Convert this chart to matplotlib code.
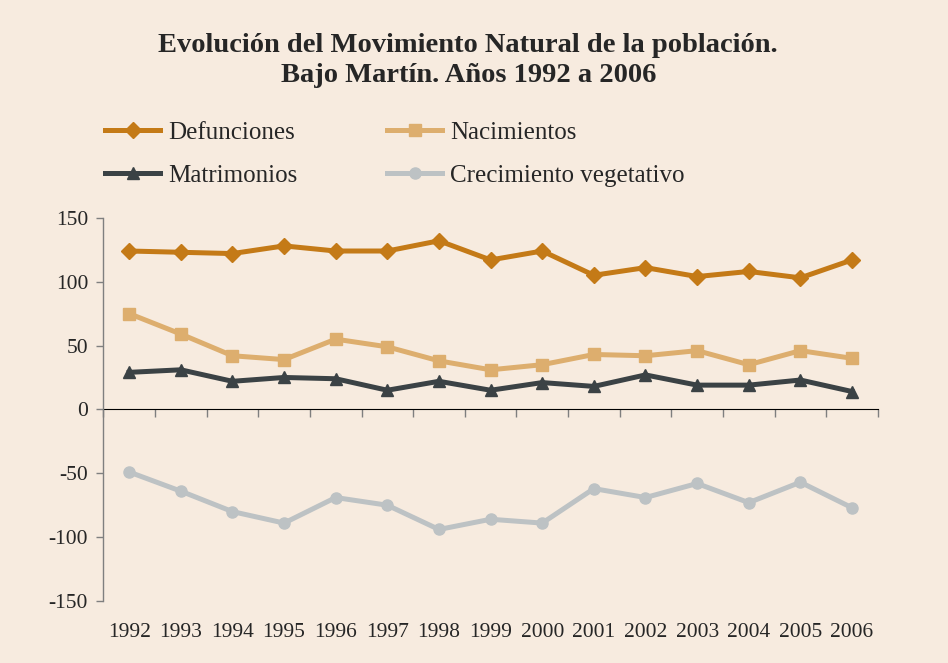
import matplotlib
matplotlib.use("Agg")
import matplotlib.pyplot as plt
import numpy as np

years = ["1992", "1993", "1994", "1995", "1996", "1997", "1998", "1999",
         "2000", "2001", "2002", "2003", "2004", "2005", "2006"]
defunciones = [124, 123, 122, 128, 124, 124, 132, 117, 124, 105, 111, 104, 108, 103, 117]
nacimientos = [75, 59, 42, 39, 55, 49, 38, 31, 35, 43, 42, 46, 35, 46, 40]
matrimonios = [29, 31, 22, 25, 24, 15, 22, 15, 21, 18, 27, 19, 19, 23, 14]
crecimiento = [-49, -64, -80, -89, -69, -75, -94, -86, -89, -62, -69, -58, -73, -57, -77]
y_ticks = [-150, -100, -50, 0, 50, 100, 150]

plt.rcParams['font.family'] = ['Liberation Serif', 'DejaVu Serif']
plt.rcParams['axes.unicode_minus'] = False

bg = "#F7EBDF"
c_def = "#C47A17"
c_nac = "#DDAE6E"
c_mat = "#3B4245"
c_cre = "#BDC2C4"
axis_col = "#7F7F7F"
text_col = "#262626"

fig = plt.figure(figsize=(9.48, 6.63), dpi=100, facecolor=bg)
ax = fig.add_axes([0.109, 0.0935, 0.817, 0.578], facecolor=bg)

x = np.arange(len(years))
lw = 3.6
h_def, = ax.plot(x, defunciones, color=c_def, lw=lw, marker='D', ms=8, label="Defunciones")
h_nac, = ax.plot(x, nacimientos, color=c_nac, lw=lw, marker='s', ms=8, label="Nacimientos")
h_mat, = ax.plot(x, matrimonios, color=c_mat, lw=lw, marker='^', ms=8, label="Matrimonios")
h_cre, = ax.plot(x, crecimiento, color=c_cre, lw=lw, marker='o', ms=8, label="Crecimiento vegetativo")

ax.set_xlim(-0.5, len(years) - 0.5)
ax.set_ylim(-150, 150)
ax.set_yticks(y_ticks)
ax.set_yticklabels([str(v) for v in y_ticks])

for s in ['top', 'right', 'bottom']:
    ax.spines[s].set_visible(False)
ax.spines['left'].set_color(axis_col)
ax.spines['left'].set_linewidth(1.0)
ax.tick_params(axis='y', colors=axis_col, labelcolor=text_col, labelsize=15.5,
               length=5, width=1.0, direction='out', pad=6)

ax.set_xticks(x)
ax.set_xticklabels(years)
ax.tick_params(axis='x', length=0, labelsize=15.5, labelcolor=text_col, pad=16)

sec = ax.secondary_xaxis(0.5)
sec.set_xticks(np.arange(-0.5, len(years) + 0.5, 1.0))
sec.set_xticklabels([])
sec.spines['bottom'].set_color(axis_col)
sec.spines['bottom'].set_linewidth(1.0)
sec.tick_params(axis='x', colors=axis_col, length=6, width=1.0, direction='in')

fig.text(0.494, 0.932, "Evolución del Movimiento Natural de la población.",
         ha='center', va='center', fontsize=20.5, fontweight='bold', color=text_col)
fig.text(0.494, 0.886, "Bajo Martín. Años 1992 a 2006",
         ha='center', va='center', fontsize=20.5, fontweight='bold', color=text_col)

leg = fig.legend([h_def, h_mat, h_nac, h_cre],
                 ["Defunciones", "Matrimonios", "Nacimientos", "Crecimiento vegetativo"],
                 ncol=2, loc='upper left', bbox_to_anchor=(0.111, 0.817),
                 frameon=False, fontsize=18, handlelength=2.2, handletextpad=0.32,
                 columnspacing=3.6, labelspacing=0.83, labelcolor=text_col,
                 markerscale=1.0, borderpad=0, borderaxespad=0)

fig.savefig("out.png", dpi=100, facecolor=bg)
